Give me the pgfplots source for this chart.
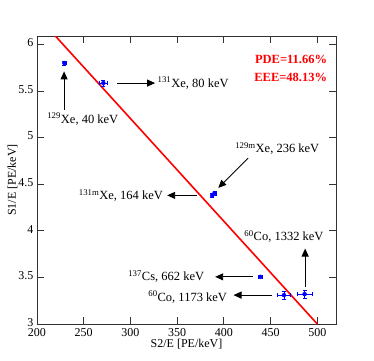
\documentclass[border=0pt]{standalone}
\usepackage{fontspec}
\setmainfont{Liberation Serif}
\usepackage{pgfplots}
\pgfplotsset{compat=1.18}
\usetikzlibrary{arrows.meta}
\begin{document}
\begin{tikzpicture}
\path[use as bounding box] (-37pt,-36pt) rectangle (337pt,324pt);
\begin{axis}[
  at={(0pt,0pt)}, anchor=south west,
  scale only axis, width=299pt, height=288pt,
  xmin=200, xmax=520, ymin=3, ymax=6.09,
  xtick={200,250,...,500}, ytick={3,3.5,...,6},
  tick align=inside, major tick length=7pt,
  minor tick num=0,
  axis line style={black!80, line width=0.9pt},
  every tick/.style={black!80, line width=0.9pt},
  /pgf/number format/assume math mode=true,
  /pgf/number format/fixed,
  tick label style={font=\fontsize{12}{14}\selectfont},
  yticklabel style={yshift=1.5pt},
  xticklabel style={yshift=-0.5pt},
  label style={font=\fontsize{12}{14}\selectfont},
  xlabel={S2/E [PE/keV]}, ylabel={S1/E [PE/keV]},
  xlabel style={yshift=4pt},
  ylabel style={yshift=-6pt},
  clip=true,
]
\addplot[red, line width=1.6pt, no marks] coordinates {(200,6.307) (500,3.0)};
\addplot[blue, only marks, mark=*, mark size=2pt,
  error bars/.cd, x dir=both, x explicit, y dir=both, y explicit,
  error bar style={blue, line width=0.6pt}, error mark options={blue, mark size=2pt, rotate=90}]
  table[x=x, y=y, x error=ex, y error=ey] {
x y ex ey
229.3 5.800 1.5 0.020
271.0 5.585 4.0 0.030
387.5 4.380 1.5 0.020
390.0 4.405 1.5 0.020
439.0 3.506 2.5 0.008
464.3 3.310 7.0 0.040
486.4 3.320 8.0 0.045
};
\tikzset{ann/.style={-{Triangle[length=8pt,width=7pt]}, black, line width=0.9pt}}
\draw[ann] (axis cs:229,5.30) -- (axis cs:229,5.71);
\draw[ann] (axis cs:285.7,5.585) -- (axis cs:326.4,5.585);
\draw[ann] (axis cs:426,4.78) -- (axis cs:394,4.46);
\draw[ann] (axis cs:371.4,4.38) -- (axis cs:339.3,4.38);
\draw[ann] (axis cs:431,3.506) -- (axis cs:390.7,3.506);
\draw[ann] (axis cs:451.4,3.31) -- (axis cs:410.3,3.31);
\draw[ann] (axis cs:487,3.40) -- (axis cs:487,3.81);
\begin{scope}[every node/.style={font=\fontsize{12.5}{14}\selectfont, inner sep=0pt}]
\node[anchor=center] at (axis cs:249,5.20) {\textsuperscript{129}Xe, 40 keV};
\node[anchor=west] at (axis cs:329,5.585) {\textsuperscript{131}Xe, 80 keV};
\node[anchor=west] at (axis cs:412,4.88) {\textsuperscript{129m}Xe, 236 keV};
\node[anchor=east] at (axis cs:335,4.38) {\textsuperscript{131m}Xe, 164 keV};
\node[anchor=west] at (axis cs:297.5,3.506) {\textsuperscript{137}Cs, 662 keV};
\node[anchor=west] at (axis cs:319,3.29) {\textsuperscript{60}Co, 1173 keV};
\node[anchor=west] at (axis cs:421.8,3.94) {\textsuperscript{60}Co, 1332 keV};
\node[anchor=east, red, font=\fontsize{12.5}{14}\selectfont\bfseries] at (axis cs:510.7,5.84) {PDE=11.66\%};
\node[anchor=east, red, font=\fontsize{12.5}{14}\selectfont\bfseries] at (axis cs:510.7,5.65) {EEE=48.13\%};
\end{scope}
\end{axis}
\end{tikzpicture}
\end{document}
